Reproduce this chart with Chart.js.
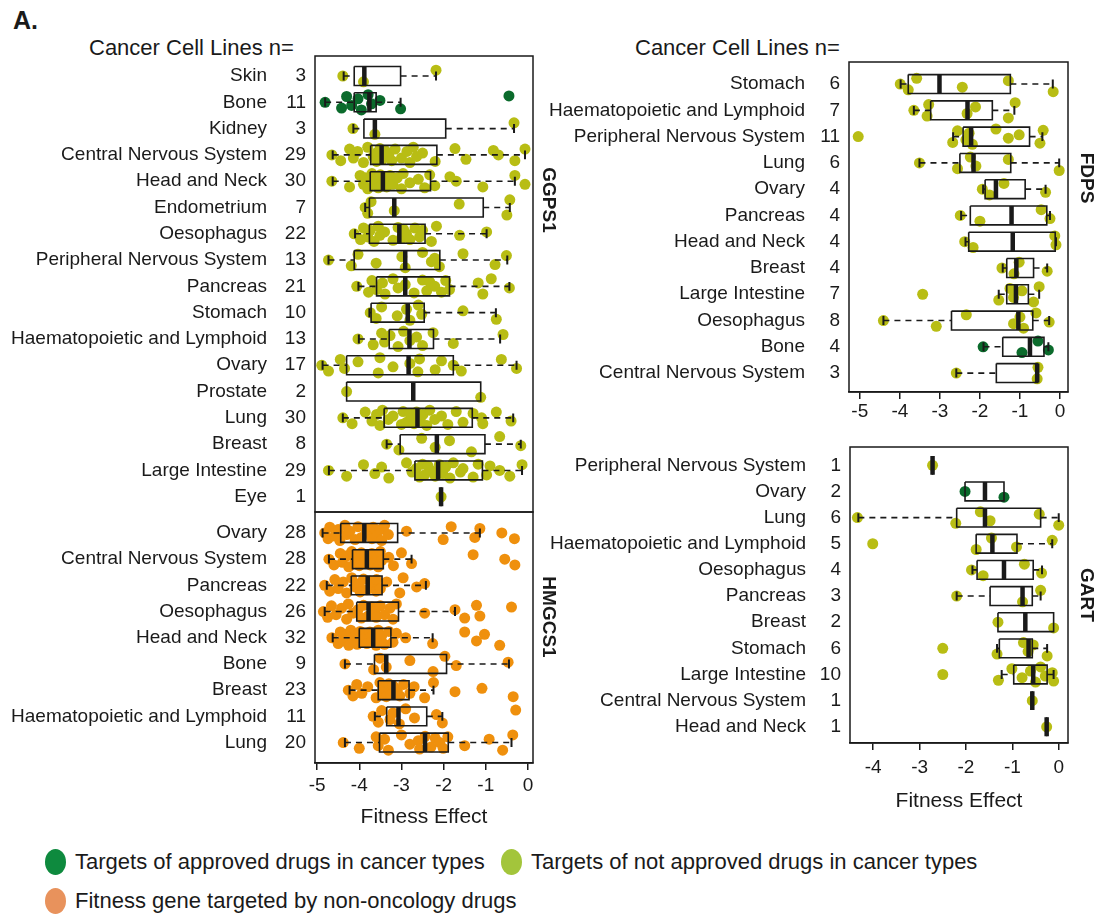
<!DOCTYPE html>
<html>
<head>
<meta charset="utf-8">
<script src="https://cdn.jsdelivr.net/npm/chart.js@4.4.1/dist/chart.umd.min.js"></script>
<style>
  body { margin: 0; background: #fff; }
  #page { position: relative; width: 1104px; height: 916px; overflow: hidden;
          font-family: 'Liberation Sans', Arial, sans-serif; color: #1a1a1a; }
  canvas { position: absolute; }
  .txt { position: absolute; white-space: nowrap; font-size: 22px; }
  .gene { position: absolute; white-space: nowrap; font-size: 19px; font-weight: bold;
          transform: translate(-50%, -50%) rotate(90deg); }
  .leg { position: absolute; white-space: nowrap; font-size: 22px; display: flex; align-items: center; }
  .dot { display: inline-block; width: 21px; height: 26px; border-radius: 50%; margin-right: 9px; }
</style>
</head>
<body>
<div id="page">
  <div class="txt" style="left:13px;top:6px;font-size:25px;font-weight:bold;">A.</div>
  <div class="txt" style="left:89px;top:35px;">Cancer Cell Lines n=</div>
  <div class="txt" style="left:635px;top:35px;">Cancer Cell Lines n=</div>

  <canvas id="ggps" width="560" height="516" style="left:0;top:0"></canvas>
  <canvas id="hmgcs" width="560" height="321" style="left:0;top:511px"></canvas>
  <canvas id="fdps" width="564" height="432" style="left:540px;top:0"></canvas>
  <canvas id="gart" width="564" height="390" style="left:540px;top:440px"></canvas>

  <div class="gene" style="left:549px;top:200px;">GGPS1</div>
  <div class="gene" style="left:549px;top:617px;">HMGCS1</div>
  <div class="gene" style="left:1087px;top:178px;">FDPS</div>
  <div class="gene" style="left:1087px;top:595px;">GART</div>

  <div class="leg" style="left:45px;top:849px;"><span class="dot" style="background:#0e8a3e"></span>Targets of approved drugs in cancer types</div>
  <div class="leg" style="left:501px;top:849px;"><span class="dot" style="background:#a3c53b"></span>Targets of not approved drugs in cancer types</div>
  <div class="leg" style="left:45px;top:888px;"><span class="dot" style="background:#e8925c"></span>Fitness gene targeted by non-oncology drugs</div>
</div>

<script>
// ---- GGPS1 ----
const ggpsNames = ['Skin', 'Bone', 'Kidney', 'Central Nervous System', 'Head and Neck', 'Endometrium',
  'Oesophagus', 'Peripheral Nervous System', 'Pancreas', 'Stomach', 'Haematopoietic and Lymphoid',
  'Ovary', 'Prostate', 'Lung', 'Breast', 'Large Intestine', 'Eye'];
const ggpsN = [3, 11, 3, 29, 30, 7, 22, 13, 21, 10, 13, 17, 2, 30, 8, 29, 1];
const ggpsQ1 = [-4.12, -4.12, -3.89, -3.73, -3.74, -3.76, -3.76, -4.12, -3.59, -3.72, -3.29, -4.30, -4.30, -3.41, -3.03, -2.68, -2.06];
const ggpsMed = [-3.88, -3.76, -3.63, -3.47, -3.44, -3.17, -3.05, -2.91, -2.91, -2.85, -2.81, -2.83, -2.72, -2.62, -2.16, -2.13, -2.06];
const ggpsQ3 = [-3.02, -3.60, -1.95, -2.16, -2.31, -1.06, -2.44, -2.09, -1.86, -2.46, -2.24, -1.77, -1.12, -1.32, -1.02, -1.08, -2.06];
const ggpsLo = [-4.37, -4.81, -4.14, -4.63, -4.63, -3.86, -4.10, -4.73, -4.02, -3.76, -4.01, -4.87, -4.30, -4.39, -3.35, -4.72, -2.06];
const ggpsHi = [-2.18, -3.02, -0.33, -0.07, -0.31, -0.43, -0.98, -0.49, -0.44, -0.76, -0.66, -0.27, -1.12, -0.35, -0.17, -0.14, -2.06];
const ggpsKind = ['lime', 'green', 'lime', 'lime', 'lime', 'lime', 'lime', 'lime', 'lime', 'lime', 'lime', 'lime', 'lime', 'lime', 'lime', 'lime', 'lime'];
const ggpsPts = [
  [-4.39, -3.90, -2.18],
  [-4.81, -4.42, -4.30, -4.18, -4.03, -3.95, -3.79, -3.71, -3.51, -3.02, -0.45],
  [-4.15, -3.63, -0.33],
  [-4.65, -4.44, -4.23, -4.14, -4.04, -3.90, -3.80, -3.67, -3.60, -3.59, -3.51, -3.45, -3.39, -3.30, -3.23, -3.15, -3.00, -2.87, -2.80, -2.72, -2.64, -2.50, -2.20, -1.73, -1.47, -0.82, -0.70, -0.31, -0.07],
  [-4.65, -4.23, -3.98, -3.90, -3.86, -3.80, -3.70, -3.65, -3.59, -3.55, -3.50, -3.47, -3.42, -3.39, -3.35, -3.27, -3.20, -3.10, -3.00, -2.96, -2.80, -2.60, -2.45, -2.33, -2.21, -1.85, -1.70, -1.07, -0.31, -0.07],
  [-3.86, -3.80, -3.72, -3.17, -1.63, -0.50, -0.43],
  [-4.12, -3.97, -3.90, -3.80, -3.74, -3.65, -3.55, -3.51, -3.40, -3.20, -3.08, -3.00, -2.95, -2.88, -2.80, -2.68, -2.57, -2.50, -2.29, -2.17, -1.62, -0.98],
  [-4.73, -4.19, -4.03, -3.60, -2.99, -2.91, -2.50, -2.29, -2.21, -2.10, -1.54, -0.78, -0.51],
  [-4.06, -3.78, -3.70, -3.59, -3.45, -3.39, -3.20, -3.08, -2.91, -2.70, -2.50, -2.40, -2.33, -2.21, -2.05, -1.95, -1.86, -1.18, -1.07, -0.87, -0.44],
  [-3.74, -3.60, -3.47, -3.10, -2.88, -2.80, -2.60, -2.52, -1.54, -0.75],
  [-4.03, -3.67, -3.47, -3.40, -3.27, -3.08, -2.95, -2.80, -2.64, -2.50, -2.25, -1.77, -0.59],
  [-4.89, -4.73, -4.45, -4.35, -4.03, -3.55, -3.51, -3.20, -2.80, -2.61, -2.57, -2.20, -2.05, -1.77, -1.58, -0.63, -0.27],
  [-4.30, -1.12],
  [-4.39, -4.17, -3.86, -3.70, -3.59, -3.51, -3.45, -3.31, -3.20, -3.00, -2.96, -2.88, -2.80, -2.75, -2.70, -2.64, -2.55, -2.49, -2.40, -2.33, -2.21, -2.05, -1.90, -1.70, -1.54, -1.30, -1.10, -1.07, -0.75, -0.40],
  [-3.35, -3.06, -2.52, -2.20, -1.86, -1.34, -0.67, -0.17],
  [-4.73, -4.30, -3.90, -3.63, -3.47, -3.30, -2.88, -2.75, -2.65, -2.57, -2.50, -2.45, -2.37, -2.30, -2.20, -2.10, -2.02, -1.95, -1.85, -1.77, -1.60, -1.54, -1.30, -1.18, -0.98, -0.90, -0.67, -0.43, -0.14],
  [-2.06]
];

// ---- HMGCS1 ----
const hmgNames = ['Ovary', 'Central Nervous System', 'Pancreas', 'Oesophagus', 'Head and Neck', 'Bone',
  'Breast', 'Haematopoietic and Lymphoid', 'Lung'];
const hmgN = [28, 28, 22, 26, 32, 9, 23, 11, 20];
const hmgQ1 = [-4.44, -4.16, -4.19, -4.06, -4.00, -3.64, -3.55, -3.35, -3.52];
const hmgMed = [-3.88, -3.82, -3.80, -3.78, -3.67, -3.36, -3.19, -3.07, -2.44];
const hmgQ3 = [-3.09, -3.43, -3.46, -3.07, -3.25, -1.93, -2.82, -2.40, -1.89];
const hmgLo = [-4.87, -4.72, -4.77, -4.82, -4.63, -4.34, -4.23, -3.63, -4.34];
const hmgHi = [-1.14, -2.76, -2.42, -1.73, -2.26, -0.45, -2.24, -2.03, -0.39];
const hmgKind = ['orange', 'orange', 'orange', 'orange', 'orange', 'orange', 'orange', 'orange', 'orange'];
const hmgPts = [
  [-4.82, -4.74, -4.70, -4.58, -4.50, -4.46, -4.34, -4.30, -4.22, -4.10, -4.03, -3.95, -3.85, -3.79, -3.70, -3.67, -3.59, -3.50, -3.47, -3.40, -3.31, -2.88, -2.01, -1.82, -1.26, -1.14, -0.62, -0.32],
  [-4.72, -4.60, -4.45, -4.40, -4.30, -4.25, -4.18, -4.10, -4.06, -4.00, -3.95, -3.90, -3.85, -3.80, -3.74, -3.70, -3.65, -3.59, -3.55, -3.50, -3.47, -3.30, -3.19, -3.00, -2.76, -1.30, -0.55, -0.31],
  [-4.82, -4.70, -4.58, -4.50, -4.38, -4.30, -4.18, -4.10, -4.00, -3.98, -3.90, -3.82, -3.75, -3.70, -3.60, -3.59, -3.50, -3.35, -3.04, -2.96, -2.64, -2.45],
  [-4.85, -4.75, -4.66, -4.55, -4.42, -4.30, -4.26, -4.15, -4.03, -3.95, -3.90, -3.79, -3.70, -3.63, -3.60, -3.50, -3.40, -3.27, -3.20, -3.12, -2.45, -1.73, -1.50, -1.22, -1.14, -0.39],
  [-4.65, -4.50, -4.45, -4.38, -4.30, -4.25, -4.20, -4.14, -4.10, -4.05, -3.98, -3.95, -3.90, -3.85, -3.82, -3.75, -3.70, -3.67, -3.60, -3.55, -3.50, -3.47, -3.40, -3.30, -3.20, -3.12, -2.90, -2.26, -1.50, -1.22, -1.03, -0.67],
  [-4.34, -3.66, -3.51, -3.36, -2.80, -2.25, -1.97, -1.70, -0.47],
  [-4.26, -4.15, -4.06, -3.94, -3.80, -3.60, -3.51, -3.45, -3.40, -3.36, -3.30, -3.25, -3.20, -3.10, -3.04, -2.95, -2.80, -2.70, -2.45, -2.24, -1.73, -1.09, -0.35],
  [-3.67, -3.55, -3.47, -3.27, -3.20, -3.05, -2.90, -2.69, -2.17, -2.03, -0.29],
  [-4.38, -4.00, -3.60, -3.55, -3.40, -3.31, -3.00, -2.80, -2.60, -2.57, -2.44, -2.30, -2.20, -2.09, -2.01, -1.90, -1.50, -0.92, -0.60, -0.36]
];

// ---- FDPS ----
const fdpsNames = ['Stomach', 'Haematopoietic and Lymphoid', 'Peripheral Nervous System', 'Lung', 'Ovary',
  'Pancreas', 'Head and Neck', 'Breast', 'Large Intestine', 'Oesophagus', 'Bone', 'Central Nervous System'];
const fdpsN = [6, 7, 11, 6, 4, 4, 4, 4, 7, 8, 4, 3];
const fdpsQ1 = [-3.79, -3.23, -2.42, -2.50, -1.87, -2.24, -2.28, -1.33, -1.33, -2.71, -1.43, -1.59];
const fdpsMed = [-3.01, -2.31, -2.22, -2.16, -1.60, -1.21, -1.18, -1.09, -1.10, -1.04, -0.75, -0.57];
const fdpsQ3 = [-1.24, -1.69, -0.76, -1.23, -0.87, -0.33, -0.12, -0.66, -0.79, -0.68, -0.40, -0.56];
const fdpsLo = [-3.98, -3.65, -2.67, -3.51, -1.92, -2.47, -2.36, -1.43, -1.53, -4.41, -1.91, -2.59];
const fdpsHi = [-0.18, -1.14, -0.44, -0.02, -0.36, -0.25, -0.10, -0.32, -0.52, -0.27, -0.29, -0.56];
const fdpsKind = ['lime', 'lime', 'lime', 'lime', 'lime', 'lime', 'lime', 'lime', 'lime', 'lime', 'green', 'lime'];
const fdpsPts = [
  [-3.99, -3.79, -3.58, -2.44, -1.29, -0.17],
  [-3.65, -3.32, -3.28, -2.32, -2.11, -1.29, -1.12],
  [-5.04, -2.68, -2.56, -2.35, -2.27, -2.19, -1.60, -1.29, -1.02, -0.50, -0.42],
  [-3.51, -2.56, -2.24, -2.10, -1.29, -0.02],
  [-1.94, -1.76, -1.40, -0.36],
  [-2.49, -2.00, -0.47, -0.25],
  [-2.38, -2.17, -0.13, -0.10],
  [-1.45, -1.15, -1.02, -0.32],
  [-3.43, -1.53, -1.25, -1.16, -0.95, -0.66, -0.52],
  [-4.41, -3.09, -2.34, -1.16, -1.00, -0.91, -0.60, -0.27],
  [-1.92, -0.95, -0.55, -0.29],
  [-2.59, -0.57, -0.55]
];

// ---- GART ----
const gartNames = ['Peripheral Nervous System', 'Ovary', 'Lung', 'Haematopoietic and Lymphoid', 'Oesophagus',
  'Pancreas', 'Breast', 'Stomach', 'Large Intestine', 'Central Nervous System', 'Head and Neck'];
const gartN = [1, 2, 6, 5, 4, 3, 2, 6, 10, 1, 1];
const gartQ1 = [-2.72, -2.02, -2.20, -1.78, -1.76, -1.48, -1.31, -1.28, -0.97, -0.57, -0.26];
const gartMed = [-2.72, -1.59, -1.59, -1.43, -1.18, -0.78, -0.72, -0.65, -0.55, -0.57, -0.26];
const gartQ3 = [-2.72, -1.18, -0.39, -0.90, -0.55, -0.57, -0.11, -0.57, -0.25, -0.57, -0.26];
const gartLo = [-2.72, -2.02, -4.32, -1.78, -1.86, -2.20, -1.31, -1.33, -1.23, -0.57, -0.26];
const gartHi = [-2.72, -1.18, 0.00, -0.14, -0.36, -0.39, -0.11, -0.25, -0.11, -0.57, -0.26];
const gartKind = ['lime', 'green', 'lime', 'lime', 'lime', 'lime', 'lime', 'lime', 'lime', 'lime', 'lime'];
const gartPts = [
  [-2.72],
  [-2.02, -1.18],
  [-4.34, -2.22, -1.69, -1.48, -0.42, 0.00],
  [-4.01, -1.78, -1.45, -0.91, -0.14],
  [-1.88, -1.63, -0.74, -0.37],
  [-2.20, -0.78, -0.39],
  [-1.31, -0.11],
  [-2.50, -1.33, -0.76, -0.66, -0.55, -0.25],
  [-2.50, -1.30, -1.01, -0.79, -0.61, -0.50, -0.39, -0.29, -0.14, -0.11],
  [-0.57],
  [-0.26]
];

const FONT = "'Liberation Sans', Arial, sans-serif";
const INK = '#1a1a1a';
const COLORS = { lime: '#b8bd14', green: '#0b6b2c', orange: '#ef900d' };
// vertical spread of the dots inside a row (display only)
const JIT = [0, 0.22, -0.22, 0.12, -0.13, 0.29, -0.29, 0.06, -0.07, 0.25, -0.24, 0.17, -0.17];
const BOX_H = 0.36;
const CAP_H = 0.17;

const frame = {
  id: 'frame',
  afterDatasetsDraw(chart) {
    const { ctx, chartArea: a } = chart;
    ctx.save();
    ctx.strokeStyle = INK;
    ctx.lineWidth = 1.5;
    ctx.strokeRect(a.left, a.top, a.right - a.left, a.bottom - a.top);
    ctx.restore();
  }
};

function gap() { return { x: null, y: null }; }

function buildSets(p) {
  const box = [], whisk = [], cap = [], mid = [];
  p.q1.forEach((a, i) => {
    const b = p.q3[i];
    box.push({ x: a, y: i - BOX_H }, { x: b, y: i - BOX_H }, { x: b, y: i + BOX_H }, { x: a, y: i + BOX_H }, { x: a, y: i - BOX_H }, gap());
    if (p.lo[i] < a) {
      whisk.push({ x: p.lo[i], y: i }, { x: a, y: i }, gap());
      cap.push({ x: p.lo[i], y: i - CAP_H }, { x: p.lo[i], y: i + CAP_H }, gap());
    }
    if (p.hi[i] > b) {
      whisk.push({ x: b, y: i }, { x: p.hi[i], y: i }, gap());
      cap.push({ x: p.hi[i], y: i - CAP_H }, { x: p.hi[i], y: i + CAP_H }, gap());
    }
    mid.push({ x: p.med[i], y: i - BOX_H }, { x: p.med[i], y: i + BOX_H }, gap());
  });

  const dots = {};
  p.pts.forEach((row, i) => row.forEach((v, j) => {
    const k = p.kind[i];
    (dots[k] = dots[k] || []).push({ x: v, y: i + (row.length > 1 ? JIT[j % JIT.length] : 0) });
  }));

  const line = (data, width, dash) => ({
    data, showLine: true, pointRadius: 0, borderColor: INK, borderWidth: width,
    borderDash: dash || [], borderCapStyle: 'butt', spanGaps: false, order: 0
  });
  const sets = Object.keys(dots).map(k => ({
    data: dots[k], pointRadius: 5.5, pointBorderWidth: 0,
    pointBackgroundColor: COLORS[k], showLine: false, order: 5
  }));
  sets.push(line(box, 1.6), line(whisk, 1.6, [6, 5]), line(cap, 2), line(mid, 4.5));
  return sets;
}

function makePanel(id, p) {
  const n = p.names.length;
  const tickFont = { family: FONT, size: 19 };
  const rowAxis = (labels, weight, width, pad) => ({
    type: 'linear', position: 'left', weight, reverse: true,
    min: -p.padTop, max: n - 1 + p.padBot,
    afterBuildTicks: ax => { ax.ticks = p.names.map((_, i) => ({ value: i })); },
    afterFit: s => { s.width = width; s.paddingTop = 0; s.paddingBottom = 0; },
    ticks: { callback: v => String(labels[v]), font: tickFont, color: INK, padding: pad, autoSkip: false },
    grid: { display: false, drawTicks: false },
    border: { display: false }
  });
  new Chart(document.getElementById(id), {
    type: 'scatter',
    data: { datasets: buildSets(p) },
    plugins: [frame],
    options: {
      responsive: false,
      animation: false,
      events: [],
      layout: { autoPadding: false, padding: { left: 0, top: p.top, right: p.right, bottom: p.bottom } },
      plugins: { legend: { display: false }, tooltip: { enabled: false } },
      scales: {
        x: {
          type: 'linear', position: 'bottom', display: p.xAxis,
          min: p.xmin, max: p.xmax,
          afterBuildTicks: ax => { ax.ticks = p.xticks.map(v => ({ value: v })); },
          afterFit: s => { if (p.axisH) s.height = p.axisH; },
          ticks: { callback: v => String(v), font: tickFont, color: INK, padding: p.tickPad, autoSkip: false, maxRotation: 0 },
          grid: { display: true, drawOnChartArea: false, drawTicks: true, tickLength: 7, color: INK, lineWidth: 1.5 },
          border: { display: true, color: INK, width: 1.5 },
          title: { display: !!p.title, text: p.title || '', font: { family: FONT, size: 21 }, color: INK,
                   padding: { top: 0, bottom: p.titlePad || 0 } }
        },
        y: rowAxis(p.ns, 0, p.nW, 9),
        yName: rowAxis(p.names, 1, p.nameW, 8)
      }
    }
  });
}

makePanel('ggps', {
  names: ggpsNames, ns: ggpsN, q1: ggpsQ1, med: ggpsMed, q3: ggpsQ3, lo: ggpsLo, hi: ggpsHi,
  pts: ggpsPts, kind: ggpsKind, padTop: 0.76, padBot: 0.58,
  xmin: -5.05, xmax: 0.12, xticks: [-5, -4, -3, -2, -1, 0], xAxis: false,
  top: 56, right: 27, bottom: 4, nameW: 275, nW: 40
});
makePanel('hmgcs', {
  names: hmgNames, ns: hmgN, q1: hmgQ1, med: hmgMed, q3: hmgQ3, lo: hmgLo, hi: hmgHi,
  pts: hmgPts, kind: hmgKind, padTop: 0.8, padBot: 0.78,
  xmin: -5.05, xmax: 0.12, xticks: [-5, -4, -3, -2, -1, 0], xAxis: true, axisH: 69, tickPad: 4,
  title: 'Fitness Effect', titlePad: 2,
  top: 1, right: 27, bottom: 0, nameW: 275, nW: 40
});
makePanel('fdps', {
  names: fdpsNames, ns: fdpsN, q1: fdpsQ1, med: fdpsMed, q3: fdpsQ3, lo: fdpsLo, hi: fdpsHi,
  pts: fdpsPts, kind: fdpsKind, padTop: 0.84, padBot: 0.72,
  xmin: -5.27, xmax: 0.2, xticks: [-5, -4, -3, -2, -1, 0], xAxis: true, axisH: 40, tickPad: 1,
  top: 62, right: 36, bottom: 0, nameW: 273, nW: 36
});
makePanel('gart', {
  names: gartNames, ns: gartN, q1: gartQ1, med: gartMed, q3: gartQ3, lo: gartLo, hi: gartHi,
  pts: gartPts, kind: gartKind, padTop: 0.7, padBot: 0.62,
  xmin: -4.5, xmax: 0.2, xticks: [-4, -3, -2, -1, 0], xAxis: true, axisH: 87, tickPad: 6,
  title: 'Fitness Effect', titlePad: 16,
  top: 7, right: 36, bottom: 0, nameW: 274, nW: 36
});
</script>
</body>
</html>
